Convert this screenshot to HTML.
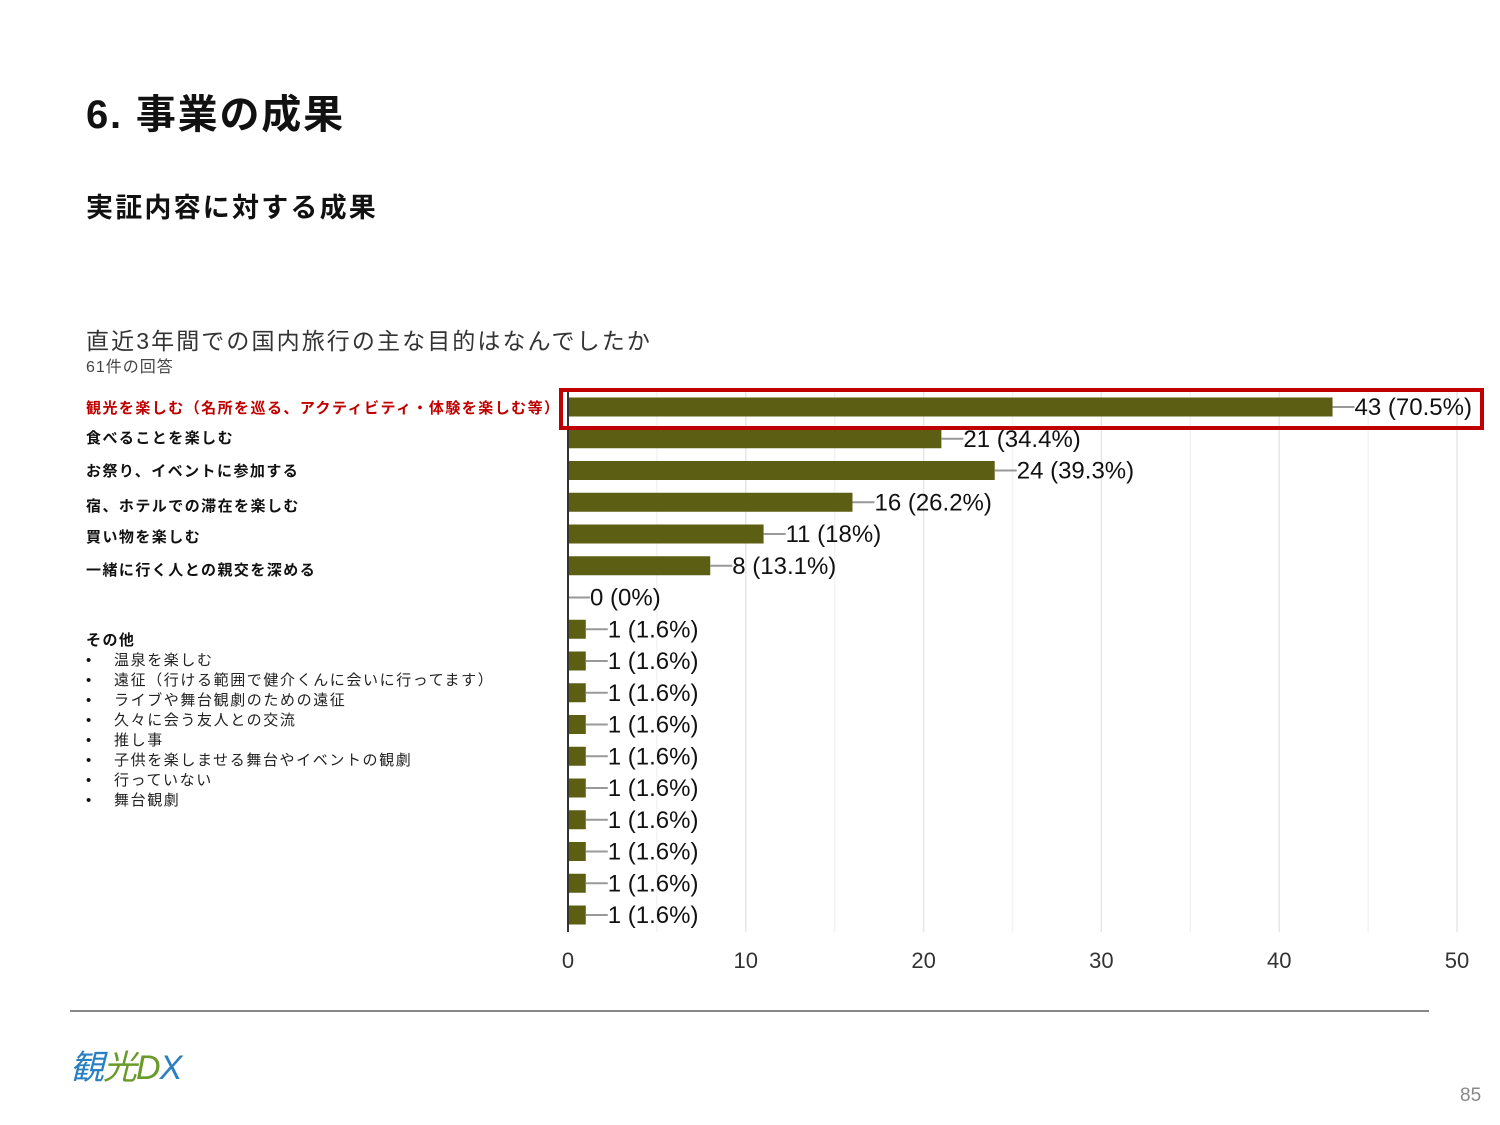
<!DOCTYPE html>
<html><head><meta charset="utf-8">
<style>
body{margin:0;background:#fff;}
#page{position:relative;width:1500px;height:1125px;overflow:hidden;font-family:"Liberation Sans","Noto Sans CJK JP",sans-serif;color:#111;}
.abs{position:absolute;white-space:nowrap;}
.cat{position:absolute;left:86px;font-size:15px;font-weight:bold;line-height:18px;letter-spacing:1.45px;}
.other li{font-size:15px;line-height:20px;color:#222;letter-spacing:1.6px;}
</style></head>
<body>
<div id="page">
<div class="abs" style="left:86px;top:82px;font-size:40px;font-weight:bold;letter-spacing:1.8px;">6. 事業の成果</div>
<div class="abs" style="left:86px;top:186px;font-size:27px;font-weight:bold;letter-spacing:2.2px;">実証内容に対する成果</div>
<div class="abs" style="left:86px;top:322px;font-size:23px;color:#333;letter-spacing:2.1px;">直近3年間での国内旅行の主な目的はなんでしたか</div>
<div class="abs" style="left:86px;top:353px;font-size:16px;color:#444;letter-spacing:1px;">61件の回答</div>

<div class="cat" style="top:400px;color:#c00000;">観光を楽しむ（名所を巡る、アクティビティ・体験を楽しむ等）</div>
<div class="cat" style="top:430px;">食べることを楽しむ</div>
<div class="cat" style="top:463px;">お祭り、イベントに参加する</div>
<div class="cat" style="top:498px;">宿、ホテルでの滞在を楽しむ</div>
<div class="cat" style="top:529px;">買い物を楽しむ</div>
<div class="cat" style="top:562px;">一緒に行く人との親交を深める</div>
<div class="cat" style="top:632px;">その他</div>
<ul class="other abs" style="left:86px;top:651px;margin:0;padding:0 0 0 28px;list-style:none;">
<li>温泉を楽しむ</li>
<li>遠征（行ける範囲で健介くんに会いに行ってます）</li>
<li>ライブや舞台観劇のための遠征</li>
<li>久々に会う友人との交流</li>
<li>推し事</li>
<li>子供を楽しませる舞台やイベントの観劇</li>
<li>行っていない</li>
<li>舞台観劇</li>
</ul>
<div class="abs" style="left:86px;top:651px;font-size:15px;line-height:20px;">•<br>•<br>•<br>•<br>•<br>•<br>•<br>•</div>

<svg id="chart" class="abs" style="left:0;top:0;" width="1500" height="1125"></svg>

<div class="abs" style="left:70px;top:1010px;width:1359px;height:2px;background:#888;"></div>
<div class="abs" style="left:70px;top:1040px;font-size:34px;font-style:italic;letter-spacing:-1px;"><span style="color:#2a7fc1">観</span><span style="color:#6a9a2a">光</span><span style="color:#6a9a2a">D</span><span style="color:#2a7fc1">X</span></div>
<div class="abs" style="left:1460px;top:1085px;font-size:19px;color:#888;">85</div>
</div>
<script>
const categories=["観光","食べる","お祭り","宿","買い物","親交","その他0","o1","o2","o3","o4","o5","o6","o7","o8","o9","o10"];
const counts=[43,21,24,16,11,8,0,1,1,1,1,1,1,1,1,1,1];
const pcts=["70.5","34.4","39.3","26.2","18","13.1","0","1.6","1.6","1.6","1.6","1.6","1.6","1.6","1.6","1.6","1.6"];
const ticks=[0,10,20,30,40,50];
const NS="http://www.w3.org/2000/svg";
const svg=document.getElementById('chart');
const x0=568,x1=1457,yTop=392,yBot=932,firstY=407,step=31.75,bh=19;
const xs=v=>x0+(x1-x0)*v/50;
const ys=i=>firstY+i*step;
function mk(t,a){const e=document.createElementNS(NS,t);for(const k in a)e.setAttribute(k,a[k]);svg.appendChild(e);return e;}
for(let v=5;v<=50;v+=5){
 const g=mk('line',{x1:xs(v),x2:xs(v),y1:yTop,y2:yBot,stroke:v%10?'#f3f3f3':'#e6e6e6','stroke-width':1.5});
 
 
}
ticks.forEach(t=>{
 const e=mk('text',{x:xs(t),y:968,'text-anchor':'middle','font-size':22,fill:'#333','font-family':'Liberation Sans, sans-serif'});
 e.textContent=t;
 
 
});
counts.forEach((c,i)=>{
 const y=ys(i);
 if(c>0){
  const r=mk('rect',{x:x0,y:y-bh/2,width:xs(c)-x0,height:bh,fill:'#5c5e13'});
  
  
 }
 const l=mk('line',{x1:xs(c),x2:xs(c)+22,y1:y,y2:y,stroke:'#999','stroke-width':2});
 
 
 const t=mk('text',{x:xs(c)+22,y:y+8,'font-size':24,fill:'#111','font-family':'Liberation Sans, sans-serif'});
 t.textContent=c+" ("+pcts[i]+"%)";
 
 
});
const ax=mk('line',{x1:x0,x2:x0,y1:yTop,y2:yBot,stroke:'#333','stroke-width':2});


const hb=mk('rect',{x:561,y:390,width:921,height:38,fill:'none',stroke:'#c00000','stroke-width':4});


</script>
</body></html>
